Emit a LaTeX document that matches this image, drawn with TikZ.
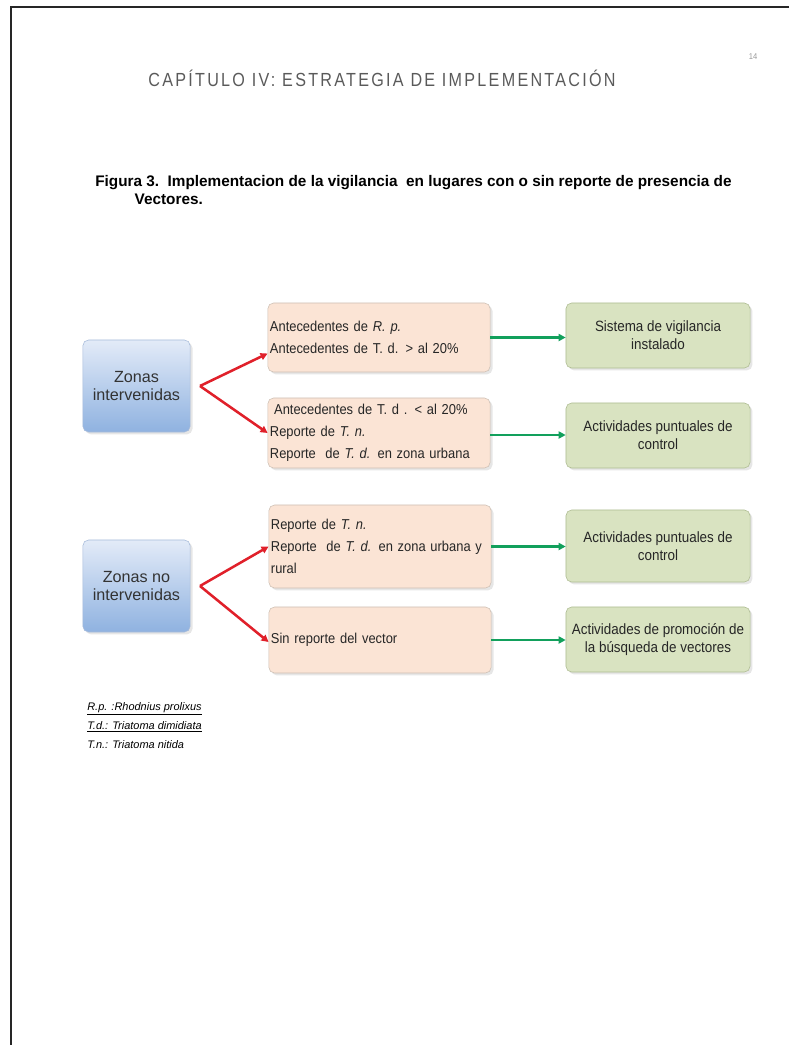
\documentclass[tikz,border=0pt]{standalone}
\usepackage{fontspec}
\setmainfont[FakeStretch=0.9]{Liberation Sans}
\newfontfamily\titlefont[FakeStretch=0.85,LetterSpace=12]{Liberation Sans}
\newfontfamily\plainfont{Liberation Sans}
\usepackage{tikz}
\usetikzlibrary{arrows.meta,shadows}

\definecolor{zonatop}{HTML}{E3EBF8}
\definecolor{zonabot}{HTML}{8FB2E0}
\definecolor{zonaline}{HTML}{A7BBDA}
\definecolor{condfill}{HTML}{FBE4D5}
\definecolor{condline}{HTML}{CDBFB3}
\definecolor{accfill}{HTML}{D9E3C1}
\definecolor{accline}{HTML}{AEBC92}
\definecolor{flecharoja}{HTML}{E0202A}
\definecolor{flechaverde}{HTML}{12A05C}
\definecolor{titulogris}{HTML}{5A5A5A}

\begin{document}
\begin{tikzpicture}[x=0.025cm,y=0.025cm,
  zona/.style={draw=zonaline, rounded corners=4pt, top color=zonatop, bottom color=zonabot,
    minimum width=2.68cm, minimum height=2.3cm, align=center, text=black!80,
    font=\fontsize{11.5}{12.2}\plainfont,
    drop shadow={opacity=0.2, shadow xshift=0.6mm, shadow yshift=-0.6mm}},
  cond/.style={draw=condline, fill=condfill, rounded corners=4pt, minimum width=5.55cm,
    text width=5.45cm, align=left, inner xsep=1.5pt, text=black!85,
    font=\fontsize{10.2}{15.6}\selectfont,
    drop shadow={opacity=0.2, shadow xshift=0.6mm, shadow yshift=-0.6mm}},
  accion/.style={draw=accline, fill=accfill, rounded corners=4pt, minimum width=4.6cm,
    minimum height=1.625cm, align=center, text=black!85,
    font=\fontsize{10.6}{12.8}\selectfont,
    drop shadow={opacity=0.2, shadow xshift=0.6mm, shadow yshift=-0.6mm}},
  roja/.style={draw=flecharoja, line width=1.8pt, -{Triangle[length=5pt,width=5pt]}},
  verde/.style={draw=flechaverde, line width=1.8pt, -{Triangle[length=5pt,width=5pt]}},
  leyenda/.style={anchor=base west, inner sep=0pt, font=\fontsize{7.8}{9}\plainfont\itshape}]
\useasboundingbox (0,0) rectangle (789,-1045);

% page frame
\draw[line width=1.8pt, black!85] (789,-7) -| (11,-1045);

% header
\node[text=black!40, font=\fontsize{6}{7}\selectfont] (pag) at (753,-57) {14};
\node[text=titulogris, font=\fontsize{13.5}{16}\titlefont] (titulo) at (382,-78)
  {CAPÍTULO IV: ESTRATEGIA DE IMPLEMENTACIÓN};
\node[anchor=base west, inner sep=0pt, align=left, font=\fontsize{10.9}{12.8}\plainfont\bfseries] (figura) at (95,-204)
  {Figura 3.\ \ Implementacion\ de la vigilancia\ \ en lugares con o sin reporte de presencia de\\
   \hspace*{28pt}Vectores.};

% zones
\node[zona] (zi) at (136.5,-386) {Zonas\\intervenidas};
\node[zona] (zn) at (136.5,-586) {Zonas no\\intervenidas};

% conditions
\node[cond, minimum height=1.725cm] (ca) at (379,-337.5)
  {Antecedentes de \textit{R. p.}\\Antecedentes de T. d. > al 20\%};
\node[cond, minimum height=1.75cm] (cb) at (379,-433)
  {\hspace*{3pt}Antecedentes de T. d . < al 20\%\\Reporte de \textit{T. n.}\\Reporte\ \ de \textit{T. d.} en zona urbana};
\node[cond, minimum height=2.075cm] (cc) at (380,-546.5)
  {Reporte de \textit{T. n.}\\Reporte\ \ de \textit{T. d.} en zona urbana y\\rural};
\node[cond, minimum height=1.65cm] (cd) at (380,-640)
  {Sin reporte del vector};

% actions
\node[accion] (aa) at (658,-335.5) {Sistema de vigilancia\\instalado};
\node[accion] (ab) at (658,-435.5) {Actividades puntuales de\\control};
\node[accion, minimum height=1.8cm] (ac) at (658,-546) {Actividades puntuales de\\control};
\node[accion] (ad) at (658,-639.5) {Actividades de promoción de\\la búsqueda de vectores};

% red arrows
\begin{scope}[roja]
\draw ([xshift=2.4mm]zi.east) -- ([yshift=-4mm]ca.west);
\draw ([xshift=2.4mm]zi.east) -- (cb.west);
\draw ([xshift=2.4mm]zn.east) -- (cc.west);
\draw ([xshift=2.4mm]zn.east) -- ([yshift=-0.5mm]cd.west);
\end{scope}

% green arrows
\begin{scope}[verde]
\draw (ca.east) -- (ca.east -| aa.west);
\draw ([yshift=-0.5mm]cb.east) -- ([yshift=-0.5mm]cb.east -| ab.west);
\draw (cc.east) -- (cc.east -| ac.west);
\draw (cd.east) -- (cd.east -| ad.west);
\end{scope}

% legend
\node[leyenda] (rp) at (87,-710) {\underline{R.p. :Rhodnius prolixus}};
\node[leyenda] (td) at (87,-729) {\underline{T.d.: Triatoma dimidiata}};
\node[leyenda] (tn) at (87,-748) {T.n.: Triatoma nitida};
\end{tikzpicture}
\end{document}
